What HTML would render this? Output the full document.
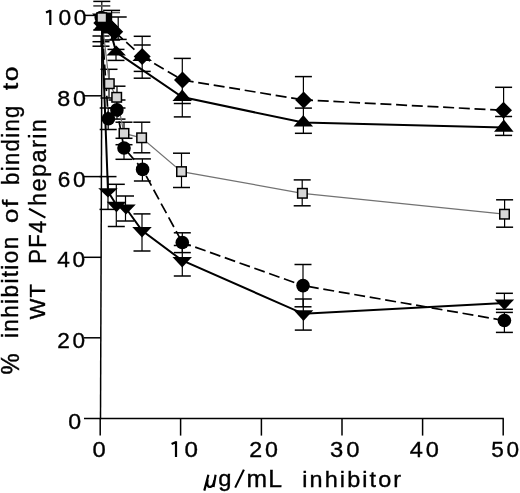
<!DOCTYPE html>
<html><head><meta charset="utf-8"><style>
html,body{margin:0;padding:0;background:#fff;}
svg{display:block;}
text{font-family:"Liberation Sans",sans-serif;fill:#000;}
svg{will-change:transform;}
</style></head><body>
<svg width="520" height="493" viewBox="0 0 520 493" >
<rect width="520" height="493" fill="#fff"/>
<line x1="102.0" y1="14.5" x2="100.5" y2="419.25" stroke="#000" stroke-width="1.5" />
<line x1="84" y1="418.5" x2="503.8" y2="418.5" stroke="#000" stroke-width="1.5" />
<line x1="84" y1="337.8" x2="100.80185299567634" y2="337.8" stroke="#000" stroke-width="1.5" />
<line x1="84" y1="257.3" x2="101.10018529956763" y2="257.3" stroke="#000" stroke-width="1.5" />
<line x1="84" y1="176.6" x2="101.39925880172946" y2="176.6" stroke="#000" stroke-width="1.5" />
<line x1="84" y1="95.8" x2="101.69870290302656" y2="95.8" stroke="#000" stroke-width="1.5" />
<line x1="84" y1="15.4" x2="101.99666460778258" y2="15.4" stroke="#000" stroke-width="1.5" />
<line x1="100.2" y1="418.5" x2="100.2" y2="435.6" stroke="#000" stroke-width="1.5" />
<line x1="180.6" y1="418.5" x2="180.6" y2="435.6" stroke="#000" stroke-width="1.5" />
<line x1="261.4" y1="418.5" x2="261.4" y2="435.6" stroke="#000" stroke-width="1.5" />
<line x1="342" y1="418.5" x2="342" y2="435.6" stroke="#000" stroke-width="1.5" />
<line x1="422.6" y1="418.5" x2="422.6" y2="435.6" stroke="#000" stroke-width="1.5" />
<line x1="503.2" y1="418.5" x2="503.2" y2="435.6" stroke="#000" stroke-width="1.5" />
<line x1="101.8" y1="1.4" x2="101.8" y2="30" stroke="#000" stroke-width="1.2" />
<line x1="93.3" y1="1.4" x2="110.3" y2="1.4" stroke="#000" stroke-width="1.5" />
<line x1="93.3" y1="30" x2="110.3" y2="30" stroke="#000" stroke-width="1.5" />
<line x1="93.3" y1="5.9" x2="110.3" y2="5.9" stroke="#555" stroke-width="1.8" />
<line x1="112.0" y1="12.6" x2="120.0" y2="12.6" stroke="#555" stroke-width="1.4" />
<line x1="111.6" y1="10.4" x2="111.6" y2="40" stroke="#000" stroke-width="1.2" />
<line x1="103.1" y1="10.4" x2="120.1" y2="10.4" stroke="#000" stroke-width="1.5" />
<line x1="103.1" y1="40" x2="120.1" y2="40" stroke="#000" stroke-width="1.5" />
<line x1="118.2" y1="17" x2="118.2" y2="39.4" stroke="#000" stroke-width="1.2" />
<line x1="109.7" y1="17" x2="126.7" y2="17" stroke="#000" stroke-width="1.5" />
<line x1="109.7" y1="39.4" x2="126.7" y2="39.4" stroke="#000" stroke-width="1.5" />
<line x1="116" y1="49.4" x2="116" y2="60.4" stroke="#000" stroke-width="1.2" />
<line x1="107.5" y1="49.4" x2="124.5" y2="49.4" stroke="#000" stroke-width="1.5" />
<line x1="107.5" y1="60.4" x2="124.5" y2="60.4" stroke="#000" stroke-width="1.5" />
<line x1="101" y1="36" x2="101" y2="46.2" stroke="#000" stroke-width="1.2" />
<line x1="92.5" y1="36" x2="109.5" y2="36" stroke="#000" stroke-width="1.5" />
<line x1="92.5" y1="41.7" x2="109.5" y2="41.7" stroke="#000" stroke-width="1.5" />
<line x1="92.5" y1="46.2" x2="109.5" y2="46.2" stroke="#000" stroke-width="1.5" />
<line x1="142.2" y1="36.3" x2="142.2" y2="78.2" stroke="#000" stroke-width="1.2" />
<line x1="133.7" y1="36.3" x2="150.7" y2="36.3" stroke="#000" stroke-width="1.5" />
<line x1="133.7" y1="45" x2="150.7" y2="45" stroke="#000" stroke-width="1.5" />
<line x1="133.7" y1="71.4" x2="150.7" y2="71.4" stroke="#000" stroke-width="1.5" />
<line x1="133.7" y1="78.2" x2="150.7" y2="78.2" stroke="#000" stroke-width="1.5" />
<line x1="182.3" y1="58.4" x2="182.3" y2="116.9" stroke="#000" stroke-width="1.2" />
<line x1="173.8" y1="58.4" x2="190.8" y2="58.4" stroke="#000" stroke-width="1.5" />
<line x1="173.8" y1="103.5" x2="190.8" y2="103.5" stroke="#000" stroke-width="1.5" />
<line x1="173.8" y1="116.9" x2="190.8" y2="116.9" stroke="#000" stroke-width="1.5" />
<line x1="303.4" y1="76.6" x2="303.4" y2="133.3" stroke="#000" stroke-width="1.2" />
<line x1="294.9" y1="76.6" x2="311.9" y2="76.6" stroke="#000" stroke-width="1.5" />
<line x1="294.9" y1="108.1" x2="311.9" y2="108.1" stroke="#000" stroke-width="1.5" />
<line x1="294.9" y1="133.3" x2="311.9" y2="133.3" stroke="#000" stroke-width="1.5" />
<line x1="503.6" y1="87.3" x2="503.6" y2="135.4" stroke="#000" stroke-width="1.2" />
<line x1="495.1" y1="87.3" x2="512.1" y2="87.3" stroke="#000" stroke-width="1.5" />
<line x1="495.1" y1="116.5" x2="512.1" y2="116.5" stroke="#000" stroke-width="1.5" />
<line x1="495.1" y1="135.4" x2="512.1" y2="135.4" stroke="#000" stroke-width="1.5" />
<line x1="109.0" y1="69.3" x2="109.0" y2="98" stroke="#000" stroke-width="1.2" />
<line x1="100.5" y1="69.3" x2="117.5" y2="69.3" stroke="#000" stroke-width="1.5" />
<line x1="100.5" y1="98" x2="117.5" y2="98" stroke="#000" stroke-width="1.5" />
<line x1="117.0" y1="86.2" x2="117.0" y2="108" stroke="#000" stroke-width="1.2" />
<line x1="108.5" y1="86.2" x2="125.5" y2="86.2" stroke="#000" stroke-width="1.5" />
<line x1="108.5" y1="108" x2="125.5" y2="108" stroke="#000" stroke-width="1.5" />
<line x1="124.0" y1="122.2" x2="124.0" y2="138.3" stroke="#000" stroke-width="1.2" />
<line x1="115.5" y1="122.2" x2="132.5" y2="122.2" stroke="#000" stroke-width="1.5" />
<line x1="115.5" y1="138.3" x2="132.5" y2="138.3" stroke="#000" stroke-width="1.5" />
<line x1="141.8" y1="122.2" x2="141.8" y2="152.8" stroke="#000" stroke-width="1.2" />
<line x1="133.3" y1="122.2" x2="150.3" y2="122.2" stroke="#000" stroke-width="1.5" />
<line x1="133.3" y1="152.8" x2="150.3" y2="152.8" stroke="#000" stroke-width="1.5" />
<line x1="181.5" y1="153.2" x2="181.5" y2="187.5" stroke="#000" stroke-width="1.2" />
<line x1="173.0" y1="153.2" x2="190.0" y2="153.2" stroke="#000" stroke-width="1.5" />
<line x1="173.0" y1="187.5" x2="190.0" y2="187.5" stroke="#000" stroke-width="1.5" />
<line x1="302.2" y1="179.9" x2="302.2" y2="205.8" stroke="#000" stroke-width="1.2" />
<line x1="293.7" y1="179.9" x2="310.7" y2="179.9" stroke="#000" stroke-width="1.5" />
<line x1="293.7" y1="205.8" x2="310.7" y2="205.8" stroke="#000" stroke-width="1.5" />
<line x1="504.6" y1="199.8" x2="504.6" y2="227.2" stroke="#000" stroke-width="1.2" />
<line x1="496.1" y1="199.8" x2="513.1" y2="199.8" stroke="#000" stroke-width="1.5" />
<line x1="496.1" y1="227.2" x2="513.1" y2="227.2" stroke="#000" stroke-width="1.5" />
<line x1="108.2" y1="108" x2="108.2" y2="129.5" stroke="#000" stroke-width="1.2" />
<line x1="99.7" y1="108" x2="116.7" y2="108" stroke="#000" stroke-width="1.5" />
<line x1="99.7" y1="129.5" x2="116.7" y2="129.5" stroke="#000" stroke-width="1.5" />
<line x1="117.0" y1="100" x2="117.0" y2="119.1" stroke="#000" stroke-width="1.2" />
<line x1="108.5" y1="100" x2="125.5" y2="100" stroke="#000" stroke-width="1.5" />
<line x1="108.5" y1="119.1" x2="125.5" y2="119.1" stroke="#000" stroke-width="1.5" />
<line x1="124.0" y1="144.7" x2="124.0" y2="159.3" stroke="#000" stroke-width="1.2" />
<line x1="115.5" y1="144.7" x2="132.5" y2="144.7" stroke="#000" stroke-width="1.5" />
<line x1="115.5" y1="159.3" x2="132.5" y2="159.3" stroke="#000" stroke-width="1.5" />
<line x1="142.4" y1="158.9" x2="142.4" y2="181" stroke="#000" stroke-width="1.2" />
<line x1="133.9" y1="158.9" x2="150.9" y2="158.9" stroke="#000" stroke-width="1.5" />
<line x1="133.9" y1="181" x2="150.9" y2="181" stroke="#000" stroke-width="1.5" />
<line x1="182.3" y1="232.8" x2="182.3" y2="252.6" stroke="#000" stroke-width="1.2" />
<line x1="173.8" y1="232.8" x2="190.8" y2="232.8" stroke="#000" stroke-width="1.5" />
<line x1="173.8" y1="252.6" x2="190.8" y2="252.6" stroke="#000" stroke-width="1.5" />
<line x1="303.0" y1="264.5" x2="303.0" y2="306.8" stroke="#000" stroke-width="1.2" />
<line x1="294.5" y1="264.5" x2="311.5" y2="264.5" stroke="#000" stroke-width="1.5" />
<line x1="294.5" y1="306.8" x2="311.5" y2="306.8" stroke="#000" stroke-width="1.5" />
<line x1="504.4" y1="312.4" x2="504.4" y2="332.4" stroke="#000" stroke-width="1.2" />
<line x1="495.9" y1="312.4" x2="512.9" y2="312.4" stroke="#000" stroke-width="1.5" />
<line x1="495.9" y1="332.4" x2="512.9" y2="332.4" stroke="#000" stroke-width="1.5" />
<line x1="108.0" y1="176.6" x2="108.0" y2="209.4" stroke="#000" stroke-width="1.2" />
<line x1="99.5" y1="176.6" x2="116.5" y2="176.6" stroke="#000" stroke-width="1.5" />
<line x1="99.5" y1="209.4" x2="116.5" y2="209.4" stroke="#000" stroke-width="1.5" />
<line x1="116.3" y1="184.3" x2="116.3" y2="226.5" stroke="#000" stroke-width="1.2" />
<line x1="107.8" y1="184.3" x2="124.8" y2="184.3" stroke="#000" stroke-width="1.5" />
<line x1="107.8" y1="226.5" x2="124.8" y2="226.5" stroke="#000" stroke-width="1.5" />
<line x1="125.5" y1="196" x2="125.5" y2="221" stroke="#000" stroke-width="1.2" />
<line x1="117.0" y1="196" x2="134.0" y2="196" stroke="#000" stroke-width="1.5" />
<line x1="117.0" y1="221" x2="134.0" y2="221" stroke="#000" stroke-width="1.5" />
<line x1="142.0" y1="213.9" x2="142.0" y2="251" stroke="#000" stroke-width="1.2" />
<line x1="133.5" y1="213.9" x2="150.5" y2="213.9" stroke="#000" stroke-width="1.5" />
<line x1="133.5" y1="251" x2="150.5" y2="251" stroke="#000" stroke-width="1.5" />
<line x1="182.3" y1="245.5" x2="182.3" y2="276" stroke="#000" stroke-width="1.2" />
<line x1="173.8" y1="245.5" x2="190.8" y2="245.5" stroke="#000" stroke-width="1.5" />
<line x1="173.8" y1="276" x2="190.8" y2="276" stroke="#000" stroke-width="1.5" />
<line x1="303.3" y1="299" x2="303.3" y2="330.1" stroke="#000" stroke-width="1.2" />
<line x1="294.8" y1="299" x2="311.8" y2="299" stroke="#000" stroke-width="1.5" />
<line x1="294.8" y1="330.1" x2="311.8" y2="330.1" stroke="#000" stroke-width="1.5" />
<line x1="504.4" y1="293.3" x2="504.4" y2="309.3" stroke="#000" stroke-width="1.2" />
<line x1="495.9" y1="293.3" x2="512.9" y2="293.3" stroke="#000" stroke-width="1.5" />
<line x1="495.9" y1="309.3" x2="512.9" y2="309.3" stroke="#000" stroke-width="1.5" />
<polyline points="101.8,17.7 109.3,83.7 116.7,97.3 124,133.4 141.6,137.8 181.5,171.6 302.4,193.3 504.5,214.2" fill="none" stroke="#727272" stroke-width="1.2"/>
<line x1="101.8" y1="22.9" x2="110" y2="27" stroke="#000" stroke-width="1.7" stroke-dasharray="11 4.7" stroke-dashoffset="0.00"/>
<line x1="110" y1="27" x2="114.7" y2="31.8" stroke="#000" stroke-width="1.7" stroke-dasharray="11 4.7" stroke-dashoffset="9.17"/>
<line x1="114.7" y1="31.8" x2="142.2" y2="56.5" stroke="#000" stroke-width="1.7" stroke-dasharray="11 4.7" stroke-dashoffset="0.19"/>
<line x1="142.2" y1="56.5" x2="182.5" y2="80" stroke="#000" stroke-width="1.7" stroke-dasharray="11 4.7" stroke-dashoffset="1.81"/>
<line x1="182.5" y1="80" x2="303.6" y2="99.9" stroke="#000" stroke-width="1.7" stroke-dasharray="11 4.7" stroke-dashoffset="15.49"/>
<line x1="303.6" y1="99.9" x2="503.5" y2="110.3" stroke="#000" stroke-width="1.7" stroke-dasharray="11 4.7" stroke-dashoffset="1.58"/>
<line x1="101.3" y1="17.5" x2="108.4" y2="118.8" stroke="#000" stroke-width="1.7" stroke-dasharray="11 4.7" stroke-dashoffset="0.00"/>
<line x1="108.4" y1="118.8" x2="116.9" y2="109.9" stroke="#000" stroke-width="1.7" stroke-dasharray="11 4.7" stroke-dashoffset="7.35"/>
<line x1="116.9" y1="109.9" x2="124" y2="148" stroke="#000" stroke-width="1.7" stroke-dasharray="11 4.7" stroke-dashoffset="3.96"/>
<line x1="124" y1="148" x2="142.6" y2="169.4" stroke="#000" stroke-width="1.7" stroke-dasharray="11 4.7" stroke-dashoffset="11.31"/>
<line x1="142.6" y1="169.4" x2="182.3" y2="242.5" stroke="#000" stroke-width="1.7" stroke-dasharray="11 4.7" stroke-dashoffset="8.26"/>
<line x1="182.3" y1="242.5" x2="303" y2="285.6" stroke="#000" stroke-width="1.7" stroke-dasharray="11 4.7" stroke-dashoffset="2.00"/>
<line x1="303" y1="285.6" x2="504.4" y2="320.5" stroke="#000" stroke-width="1.7" stroke-dasharray="11 4.7" stroke-dashoffset="10.80"/>
<polyline points="102.5,26 110,30 116.2,52.1 182.2,97.1 303.3,122.6 503.8,127.4" fill="none" stroke="#000" stroke-width="2"/>
<polyline points="101.5,17 108,191.5 116.4,205 125.8,208 142,230.5 182.2,260.5 303.5,313.8 504.4,303" fill="none" stroke="#000" stroke-width="2"/>
<polygon points="92.05,13.5 111.55,13.5 101.8,24" fill="#000" />
<polygon points="98.25,188.2 117.75,188.2 108,197.6" fill="#000" />
<polygon points="106.75,201.7 126.25,201.7 116.5,212.2" fill="#000" />
<polygon points="116.25,204.6 135.75,204.6 126,214.6" fill="#000" />
<polygon points="132.25,227.1 151.75,227.1 142,237.4" fill="#000" />
<polygon points="172.45,257.1 191.95,257.1 182.2,267.4" fill="#000" />
<polygon points="293.75,310.3 313.25,310.3 303.5,320.9" fill="#000" />
<polygon points="494.65,299.6 514.15,299.6 504.4,309.9" fill="#000" />
<circle cx="101.3" cy="17.5" r="6.8" fill="#000"/>
<circle cx="108.4" cy="118.8" r="6.8" fill="#000"/>
<circle cx="116.9" cy="109.9" r="6.8" fill="#000"/>
<circle cx="124" cy="148" r="6.8" fill="#000"/>
<circle cx="142.6" cy="169.4" r="6.8" fill="#000"/>
<circle cx="182.3" cy="242.5" r="6.8" fill="#000"/>
<circle cx="303" cy="285.6" r="6.8" fill="#000"/>
<circle cx="504.4" cy="320.5" r="6.8" fill="#000"/>
<polygon points="103,18 112.75,30.2 93.25,30.2" fill="#000" />
<polygon points="110.5,22 120.25,33.5 100.75,33.5" fill="#000" />
<polygon points="116.2,45.4 125.95,55.5 106.45,55.5" fill="#000" />
<polygon points="142.2,50 151.95,61 132.45,61" fill="#000" />
<polygon points="182.2,89.5 191.95,100.9 172.45,100.9" fill="#000" />
<polygon points="303.3,115 313.05,126.4 293.55,126.4" fill="#000" />
<polygon points="503.8,119.5 513.55,131.7 494.05,131.7" fill="#000" />
<polygon points="101.8,14.399999999999999 110.3,22.9 101.8,31.4 93.3,22.9" fill="#000" />
<polygon points="110,18.5 118.5,27 110,35.5 101.5,27" fill="#000" />
<polygon points="114.7,23.3 123.2,31.8 114.7,40.3 106.2,31.8" fill="#000" />
<polygon points="142.2,48.0 150.7,56.5 142.2,65.0 133.7,56.5" fill="#000" />
<polygon points="182.5,71.5 191.0,80 182.5,88.5 174.0,80" fill="#000" />
<polygon points="303.6,91.4 312.1,99.9 303.6,108.4 295.1,99.9" fill="#000" />
<polygon points="503.5,101.8 512.0,110.3 503.5,118.8 495.0,110.3" fill="#000" />
<polygon points="104,12.5 111.6,12.5 111.6,20.3 114.7,23.3 106.2,31.8 103,31 103,20" fill="#000" />
<rect x="97.05" y="12.95" width="9.5" height="9.5" fill="#d6d6d6" stroke="#000" stroke-width="1.5"/>
<rect x="104.55" y="78.95" width="9.5" height="9.5" fill="#d6d6d6" stroke="#000" stroke-width="1.5"/>
<rect x="111.95" y="92.55" width="9.5" height="9.5" fill="#d6d6d6" stroke="#000" stroke-width="1.5"/>
<rect x="119.25" y="128.65" width="9.5" height="9.5" fill="#d6d6d6" stroke="#000" stroke-width="1.5"/>
<rect x="136.85" y="133.05" width="9.5" height="9.5" fill="#d6d6d6" stroke="#000" stroke-width="1.5"/>
<rect x="176.75" y="166.85" width="9.5" height="9.5" fill="#d6d6d6" stroke="#000" stroke-width="1.5"/>
<rect x="297.65" y="188.55" width="9.5" height="9.5" fill="#d6d6d6" stroke="#000" stroke-width="1.5"/>
<rect x="499.75" y="209.45" width="9.5" height="9.5" fill="#d6d6d6" stroke="#000" stroke-width="1.5"/>
<text transform="matrix(0.11385,0,0,0.10845,58.39,24.78)" font-size="200" letter-spacing="0.12em" stroke="#000" stroke-width="3.2">00</text>
<text transform="matrix(0.11652,0,0,0.11127,57.15,105.78)" font-size="200" letter-spacing="0.12em" stroke="#000" stroke-width="3.2">80</text>
<text transform="matrix(0.11266,0,0,0.11338,57.67,186.67)" font-size="200" letter-spacing="0.12em" stroke="#000" stroke-width="3.2">60</text>
<text transform="matrix(0.11325,0,0,0.10915,57.13,267.08)" font-size="200" letter-spacing="0.12em" stroke="#000" stroke-width="3.2">40</text>
<text transform="matrix(0.11310,0,0,0.11127,57.17,347.68)" font-size="200" letter-spacing="0.12em" stroke="#000" stroke-width="3.2">20</text>
<text transform="matrix(0.11579,0,0,0.10845,68.17,428.58)" font-size="200" letter-spacing="0.12em" stroke="#000" stroke-width="3.2">0</text>
<text transform="matrix(0.11895,0,0,0.10915,92.55,456.68)" font-size="200" letter-spacing="0.12em" stroke="#000" stroke-width="3.2">0</text>
<text transform="matrix(0.12105,0,0,0.11338,184.53,457.07)" font-size="200" letter-spacing="0.12em" stroke="#000" stroke-width="3.2">0</text>
<text transform="matrix(0.11616,0,0,0.11127,249.24,457.08)" font-size="200" letter-spacing="0.12em" stroke="#000" stroke-width="3.2">20</text>
<text transform="matrix(0.11905,0,0,0.11268,330.05,456.97)" font-size="200" letter-spacing="0.12em" stroke="#000" stroke-width="3.2">30</text>
<text transform="matrix(0.11795,0,0,0.11056,409.81,457.08)" font-size="200" letter-spacing="0.12em" stroke="#000" stroke-width="3.2">40</text>
<text transform="matrix(0.11299,0,0,0.11127,491.30,457.18)" font-size="200" letter-spacing="0.12em" stroke="#000" stroke-width="3.2">50</text>
<text transform="matrix(0.11889,0,0,0.11141,218.25,486.12)" font-size="200" letter-spacing="0em" stroke="#000" stroke-width="3.2">g</text>
<text transform="matrix(0.12357,0,0,0.12315,246.59,487.30)" font-size="200" letter-spacing="0em" stroke="#000" stroke-width="3.2">m</text>
<text transform="matrix(0.12360,0,0,0.12391,268.32,487.30)" font-size="200" letter-spacing="0em" stroke="#000" stroke-width="3.2">L</text>
<text transform="matrix(0.11715,0,0,0.11429,302.28,486.57)" font-size="200" letter-spacing="0.09em" stroke="#000" stroke-width="3.2">inhibitor</text>
<path d="M46.0,12.6 L50.599999999999994,10.5 M50.3,9.9 L50.3,24.9" stroke="#000" stroke-width="2.2" fill="none" stroke-linejoin="round"/>
<path d="M235.2,487.6 L243.9,469.6" stroke="#000" stroke-width="2.1"/>
<path d="M208.4,474.8 L204.3,490.6 M207.6,479.5 C206.5,485 208,487.3 210.6,486.9 C212.7,486.5 213.8,484 214.3,480.5 M215.6,474.8 L213.5,487" stroke="#000" stroke-width="2.2" fill="none"/>
<path d="M171.6,444.0 L176.3,441.90000000000003 M176.0,441.3 L176.0,456.9" stroke="#000" stroke-width="2.2" fill="none" stroke-linejoin="round"/>
<text transform="translate(18.57,374.43) rotate(-90) scale(0.11890,0.12500)" font-size="200" letter-spacing="0.06em" stroke="#000" stroke-width="3.2">%</text>
<text transform="translate(18.47,338.07) rotate(-90) scale(0.11286,0.11701)" font-size="200" letter-spacing="0.06em" stroke="#000" stroke-width="3.2">inhibition</text>
<text transform="translate(18.27,223.03) rotate(-90) scale(0.12924,0.11429)" font-size="200" letter-spacing="0.06em" stroke="#000" stroke-width="3.2">of</text>
<text transform="translate(18.63,184.94) rotate(-90) scale(0.11071,0.11604)" font-size="200" letter-spacing="0.06em" stroke="#000" stroke-width="3.2">binding</text>
<text transform="translate(18.28,90.30) rotate(-90) scale(0.13353,0.10840)" font-size="200" letter-spacing="0.06em" stroke="#000" stroke-width="3.2">to</text>
<text transform="translate(45.40,319.31) rotate(-90) scale(0.10852,0.11087)" font-size="200" letter-spacing="0.06em" stroke="#000" stroke-width="3.2">WT</text>
<text transform="translate(45.60,263.65) rotate(-90) scale(0.10949,0.12101)" font-size="200" letter-spacing="0.06em" stroke="#000" stroke-width="3.2">PF4</text>
<text transform="translate(45.88,206.05) rotate(-90) scale(0.11770,0.11711)" font-size="200" letter-spacing="0.06em" stroke="#000" stroke-width="3.2">heparin</text>
<path d="M45.4,217.6 L29,208.8" stroke="#000" stroke-width="2.1"/>
</svg>
</body></html>
